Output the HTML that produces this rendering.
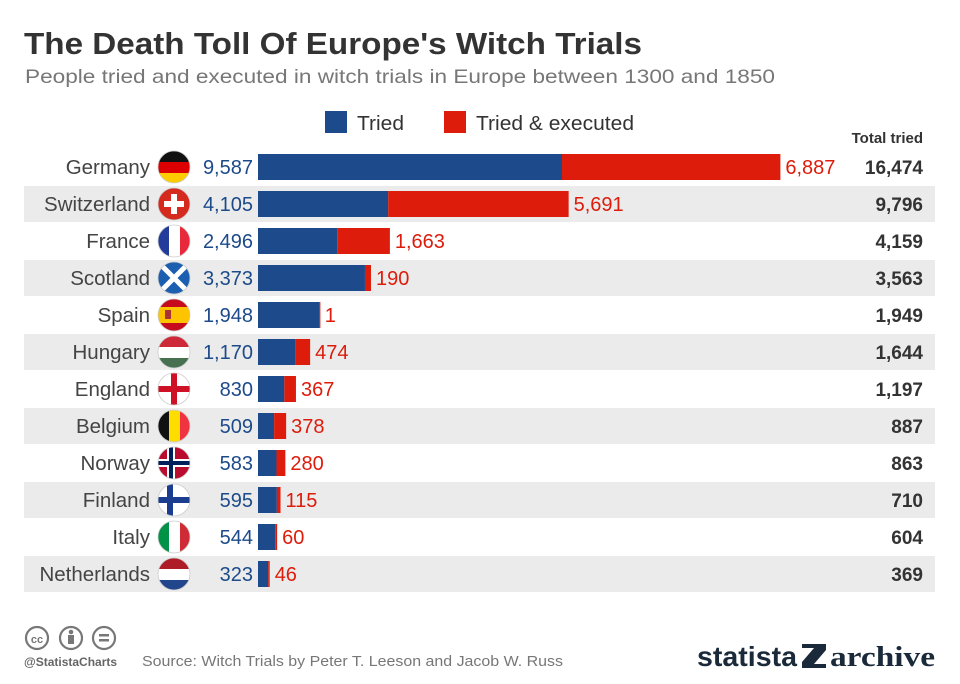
<!DOCTYPE html>
<html><head><meta charset="utf-8"><style>
body{margin:0;background:#fff;}
svg{display:block;font-family:"Liberation Sans",sans-serif;}
</style></head><body>
<svg width="960" height="684" viewBox="0 0 960 684" xmlns="http://www.w3.org/2000/svg">
<rect width="960" height="684" fill="#fff"/>
<text x="24" y="54" font-size="31" font-weight="bold" fill="#333" textLength="618" lengthAdjust="spacingAndGlyphs">The Death Toll Of Europe's Witch Trials</text>
<text x="25" y="83" font-size="19.5" fill="#777" textLength="750" lengthAdjust="spacingAndGlyphs">People tried and executed in witch trials in Europe between 1300 and 1850</text>
<rect x="325" y="111" width="22" height="22" fill="#1c4a8a"/>
<text x="357" y="130" font-size="20" fill="#333" textLength="47" lengthAdjust="spacingAndGlyphs">Tried</text>
<rect x="444" y="111" width="22" height="22" fill="#dd1c0b"/>
<text x="476" y="130" font-size="20" fill="#333" textLength="158" lengthAdjust="spacingAndGlyphs">Tried &amp; executed</text>
<text x="923" y="143" font-size="15" font-weight="bold" fill="#333" text-anchor="end">Total tried</text>
<g id="rows"></g>
<g fill="none" stroke="#777" stroke-width="2.2">
<circle cx="37" cy="638" r="11"/><circle cx="71" cy="638" r="11"/><circle cx="104" cy="638" r="11"/>
</g>
<text x="37" y="643" font-size="11" font-weight="bold" fill="#777" text-anchor="middle">cc</text>
<circle cx="71" cy="632" r="2.3" fill="#777"/><rect x="68" y="635" width="6" height="9" fill="#777"/>
<rect x="99" y="634" width="10" height="2.5" fill="#777"/><rect x="99" y="639" width="10" height="2.5" fill="#777"/>
<text x="24" y="666" font-size="12" font-weight="bold" fill="#666">@StatistaCharts</text>
<text x="142" y="666" font-size="15" fill="#777" textLength="421" lengthAdjust="spacingAndGlyphs">Source: Witch Trials by Peter T. Leeson and Jacob W. Russ</text>
<text x="697" y="666" font-size="28" font-weight="bold" fill="#1b2a3a" textLength="100" lengthAdjust="spacingAndGlyphs">statista</text>
<path d="M802 644 L826 644 L826 650 L814 664 L826 664 L826 668 L802 668 L802 662 L814 648 L802 648Z" fill="#1b2a3a"/>
<text x="830" y="666" font-size="29" fill="#1b2a3a" font-family="Liberation Serif,serif" font-weight="bold" textLength="105" lengthAdjust="spacingAndGlyphs">archive</text>
</svg>
<script>
const d=[["Germany",9587,6887,16474,"de"],["Switzerland",4105,5691,9796,"ch"],["France",2496,1663,4159,"fr"],["Scotland",3373,190,3563,"sc"],["Spain",1948,1,1949,"es"],["Hungary",1170,474,1644,"hu"],["England",830,367,1197,"en"],["Belgium",509,378,887,"be"],["Norway",583,280,863,"no"],["Finland",595,115,710,"fi"],["Italy",544,60,604,"it"],["Netherlands",323,46,369,"nl"]];
const s=0.03171,x0=258;let h="";
const f=n=>n.toLocaleString("en-US");
d.forEach((r,i)=>{const c=167+37*i,cx=174;
if(i%2)h+=`<rect x="24" y="${c-18}" width="911" height="36" fill="#ebebeb"/>`;
const bw=r[1]*s,rw=r[2]*s;
h+=`<rect x="${x0}" y="${c-13}" width="${bw}" height="26" fill="#1c4a8a"/><rect x="${x0+bw}" y="${c-13}" width="${Math.max(rw,0.6)}" height="26" fill="#dd1c0b"/>`;
h+=`<text x="150" y="${c+7}" font-size="20.5" fill="#444" text-anchor="end">${r[0]}</text>`;
h+=`<text x="253" y="${c+7}" font-size="20" fill="#1c4a8a" text-anchor="end">${f(r[1])}</text>`;
h+=`<text x="${x0+bw+rw+5}" y="${c+7}" font-size="20" fill="#dd1c0b">${f(r[2])}</text>`;
h+=`<text x="923" y="${c+7}" font-size="19" font-weight="bold" fill="#333" text-anchor="end">${f(r[3])}</text>`;
const id="cl"+i;let g="";const L=cx-16,T=c-16;
switch(r[4]){
case"de":g=`<rect x="${L}" y="${T}" width="32" height="11" fill="#111"/><rect x="${L}" y="${T+11}" width="32" height="11" fill="#d00"/><rect x="${L}" y="${T+22}" width="32" height="10" fill="#fc0"/>`;break;
case"ch":g=`<rect x="${L}" y="${T}" width="32" height="32" fill="#d52b1e"/><rect x="${cx-3}" y="${c-10}" width="6" height="20" fill="#fff"/><rect x="${cx-10}" y="${c-3}" width="20" height="6" fill="#fff"/>`;break;
case"fr":g=`<rect x="${L}" y="${T}" width="11" height="32" fill="#233c9b"/><rect x="${L+11}" y="${T}" width="11" height="32" fill="#fff"/><rect x="${L+22}" y="${T}" width="10" height="32" fill="#e8283b"/>`;break;
case"sc":g=`<rect x="${L}" y="${T}" width="32" height="32" fill="#1c5fb0"/><path d="M${L} ${T}L${L+32} ${T+32}M${L+32} ${T}L${L} ${T+32}" stroke="#fff" stroke-width="5"/>`;break;
case"es":g=`<rect x="${L}" y="${T}" width="32" height="32" fill="#c60b1e"/><rect x="${L}" y="${T+8}" width="32" height="16" fill="#ffc400"/><rect x="${cx-9}" y="${c-5}" width="6" height="9" fill="#a33"/>`;break;
case"hu":g=`<rect x="${L}" y="${T}" width="32" height="11" fill="#ce2939"/><rect x="${L}" y="${T+11}" width="32" height="11" fill="#fff"/><rect x="${L}" y="${T+22}" width="32" height="10" fill="#477050"/>`;break;
case"en":g=`<rect x="${L}" y="${T}" width="32" height="32" fill="#fff"/><rect x="${cx-3}" y="${T}" width="6" height="32" fill="#ce1124"/><rect x="${L}" y="${c-3}" width="32" height="6" fill="#ce1124"/>`;break;
case"be":g=`<rect x="${L}" y="${T}" width="11" height="32" fill="#111"/><rect x="${L+11}" y="${T}" width="11" height="32" fill="#fd0"/><rect x="${L+22}" y="${T}" width="10" height="32" fill="#ef3340"/>`;break;
case"no":g=`<rect x="${L}" y="${T}" width="32" height="32" fill="#ba0c2f"/><rect x="${cx-7}" y="${T}" width="8" height="32" fill="#fff"/><rect x="${L}" y="${c-4}" width="32" height="8" fill="#fff"/><rect x="${cx-5}" y="${T}" width="4" height="32" fill="#00205b"/><rect x="${L}" y="${c-2}" width="32" height="4" fill="#00205b"/>`;break;
case"fi":g=`<rect x="${L}" y="${T}" width="32" height="32" fill="#fff"/><rect x="${cx-7}" y="${T}" width="6" height="32" fill="#1a3d8f"/><rect x="${L}" y="${c-3}" width="32" height="6" fill="#1a3d8f"/>`;break;
case"it":g=`<rect x="${L}" y="${T}" width="11" height="32" fill="#009246"/><rect x="${L+11}" y="${T}" width="11" height="32" fill="#fff"/><rect x="${L+22}" y="${T}" width="10" height="32" fill="#ce2b37"/>`;break;
case"nl":g=`<rect x="${L}" y="${T}" width="32" height="11" fill="#ae1c28"/><rect x="${L}" y="${T+11}" width="32" height="11" fill="#fff"/><rect x="${L}" y="${T+22}" width="32" height="10" fill="#21468b"/>`;break;}
h+=`<clipPath id="${id}"><circle cx="${cx}" cy="${c}" r="16"/></clipPath><g clip-path="url(#${id})">${g}</g><circle cx="${cx}" cy="${c}" r="16" fill="none" stroke="#ccc" stroke-width="0.8"/>`;
});
document.getElementById("rows").innerHTML=h;
</script>
</body></html>
